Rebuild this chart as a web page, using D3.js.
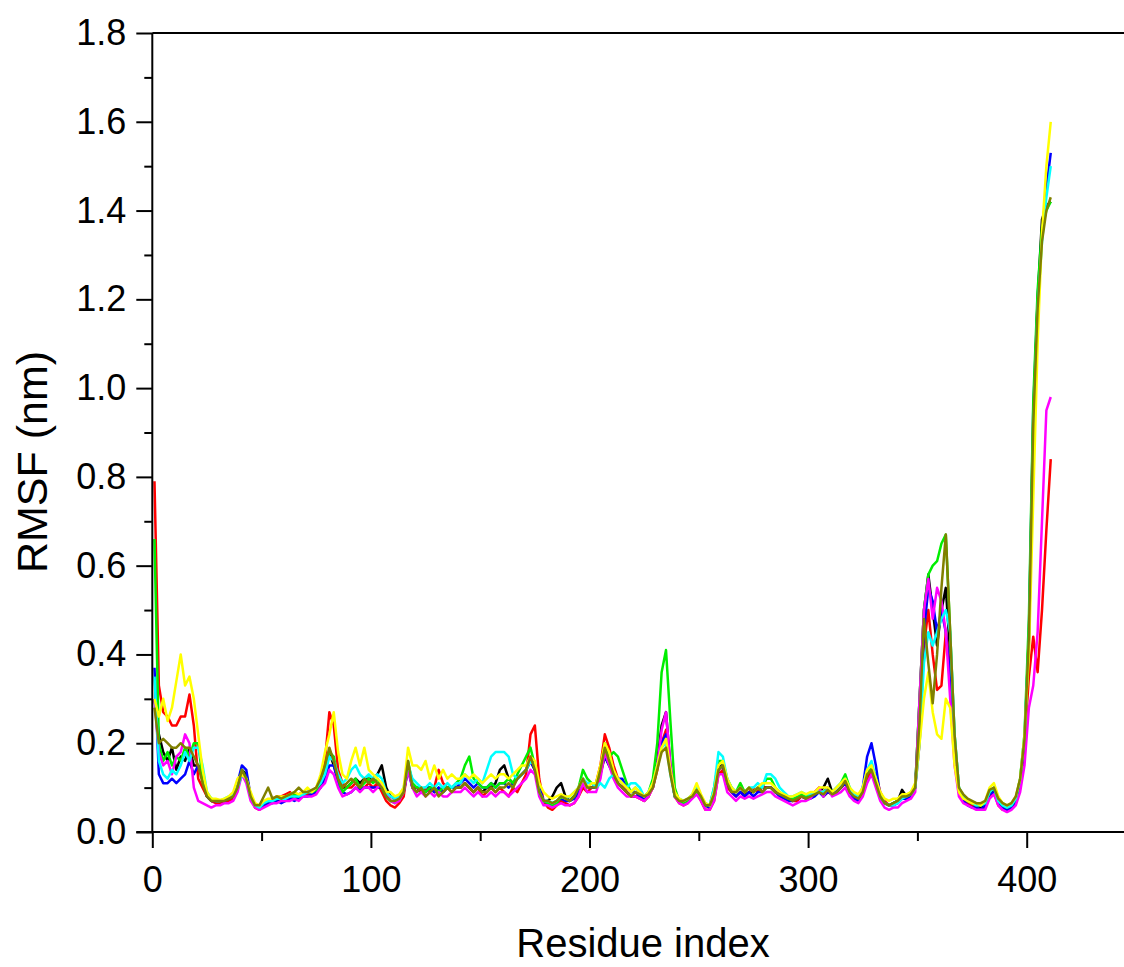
<!DOCTYPE html>
<html>
<head>
<meta charset="utf-8">
<script src="https://cdn.jsdelivr.net/npm/d3@7"></script>
<style>
  html, body { margin: 0; padding: 0; background: #fff; }
  svg { display: block; font-family: "Liberation Sans", Arial, sans-serif; }
</style>
</head>
<body>
<svg id="chart" width="1124" height="967"></svg>
<script>
// ---- data (RMSF in nm, sampled every 2 residues: 1,3,5,...,411) ----
const residues = d3.range(1, 412, 2);

const xTicks = [0, 100, 200, 300, 400];
const xMinorTicks = [50, 150, 250, 350];
const yTicks = [0, 0.2, 0.4, 0.6, 0.8, 1.0, 1.2, 1.4, 1.6, 1.8];
const yMinorTicks = [0.1, 0.3, 0.5, 0.7, 0.9, 1.1, 1.3, 1.5, 1.7];

const seriesNames = ["black", "red", "blue", "green", "magenta", "cyan", "yellow", "olive"];
const seriesColors = ["#000000", "#ff0000", "#0000ff", "#00ee00", "#ff00ff", "#00ffff", "#ffff00", "#808000"];

const rmsfBlack = [
  .3,.22,.18,.16,.19,.14,.17,.16,.19,.15,  .15,.12,.08,.07,.07,.07,.07,.075,.08,.1,
  .14,.13,.08,.06,.055,.06,.065,.07,.07,.075,  .075,.08,.075,.08,.085,.09,.085,.09,.11,.13,
  .18,.15,.12,.1,.1,.11,.12,.11,.12,.12,  .12,.13,.15,.1,.08,.075,.08,.09,.15,.1,
  .1,.09,.1,.1,.09,.1,.09,.1,.1,.1,  .1,.11,.1,.09,.1,.09,.1,.1,.11,.14,
  .15,.12,.11,.12,.13,.14,.16,.14,.09,.07,  .07,.08,.1,.11,.08,.07,.08,.09,.11,.1,
  .1,.1,.13,.17,.15,.13,.11,.1,.09,.08,  .08,.08,.07,.08,.11,.16,.24,.27,.15,.08,
  .07,.065,.07,.08,.09,.075,.06,.055,.08,.15,  .15,.11,.09,.09,.1,.085,.09,.09,.1,.1,
  .1,.1,.09,.085,.08,.075,.07,.075,.085,.08,  .08,.085,.09,.1,.12,.09,.09,.1,.11,.09,
  .08,.075,.09,.12,.14,.11,.08,.065,.06,.065,  .07,.095,.08,.085,.1,.3,.5,.58,.5,.42,
  .5,.55,.4,.2,.09,.07,.065,.06,.055,.055,  .06,.085,.095,.065,.055,.05,.055,.065,.1,.2,
  .42,.9,1.2,1.38,1.41,1.42
];
const rmsfRed = [
  .79,.33,.27,.26,.24,.24,.26,.26,.31,.24,  .12,.1,.08,.07,.065,.065,.07,.07,.075,.1,
  .13,.12,.08,.055,.05,.06,.07,.075,.08,.08,  .085,.09,.08,.085,.09,.085,.09,.1,.12,.16,
  .27,.24,.14,.11,.1,.1,.11,.1,.1,.11,  .1,.11,.09,.07,.06,.055,.065,.08,.15,.1,
  .1,.09,.1,.09,.1,.14,.11,.1,.09,.1,  .1,.11,.1,.09,.1,.08,.09,.1,.09,.1,
  .09,.08,.1,.09,.11,.13,.22,.24,.12,.07,  .055,.05,.06,.07,.065,.06,.065,.08,.1,.09,
  .1,.11,.15,.22,.19,.15,.12,.11,.09,.08,  .08,.075,.07,.08,.1,.14,.2,.23,.14,.08,
  .065,.06,.065,.08,.09,.07,.05,.05,.07,.13,  .14,.1,.09,.08,.09,.08,.09,.1,.09,.1,
  .1,.1,.09,.085,.08,.075,.07,.07,.08,.075,  .08,.09,.1,.08,.09,.085,.09,.1,.11,.09,
  .08,.075,.09,.12,.14,.13,.09,.07,.06,.06,  .07,.08,.08,.085,.1,.2,.42,.5,.4,.32,
  .33,.45,.38,.2,.09,.07,.065,.06,.055,.05,  .055,.08,.09,.06,.05,.05,.055,.065,.1,.2,
  .35,.44,.36,.5,.68,.84
];
const rmsfBlue = [
  .37,.13,.11,.11,.12,.11,.12,.13,.16,.13,  .15,.12,.08,.07,.07,.07,.07,.075,.08,.11,
  .15,.14,.08,.06,.055,.06,.065,.065,.07,.065,  .07,.075,.07,.075,.08,.08,.085,.09,.1,.12,
  .15,.15,.11,.09,.085,.09,.1,.095,.1,.1,  .1,.1,.1,.08,.07,.07,.075,.09,.14,.1,
  .09,.1,.09,.1,.09,.1,.09,.1,.1,.1,  .11,.12,.11,.1,.11,.1,.1,.11,.1,.11,
  .11,.1,.11,.12,.13,.14,.16,.14,.1,.07,  .065,.06,.07,.075,.07,.07,.075,.09,.12,.1,
  .1,.1,.14,.17,.15,.13,.12,.12,.1,.09,  .09,.08,.075,.085,.1,.15,.2,.22,.14,.08,
  .07,.065,.07,.08,.09,.075,.06,.055,.08,.14,  .15,.11,.09,.08,.09,.08,.09,.08,.09,.09,
  .1,.1,.09,.08,.075,.07,.07,.075,.08,.075,  .075,.08,.09,.08,.09,.085,.09,.1,.11,.09,
  .075,.07,.1,.17,.2,.15,.08,.065,.06,.06,  .065,.075,.075,.08,.1,.25,.45,.55,.52,.45,
  .5,.45,.35,.2,.09,.07,.06,.055,.055,.05,  .06,.085,.09,.065,.055,.05,.055,.07,.11,.2,
  .45,.95,1.2,1.35,1.45,1.53
];
const rmsfGreen = [
  .66,.2,.16,.18,.15,.17,.16,.19,.17,.2,  .2,.12,.085,.075,.07,.07,.072,.075,.08,.1,
  .14,.12,.08,.06,.055,.065,.07,.07,.075,.075,  .08,.08,.085,.08,.085,.09,.09,.095,.11,.14,
  .18,.17,.12,.09,.1,.11,.12,.1,.11,.12,  .11,.12,.1,.08,.07,.065,.075,.09,.16,.11,
  .1,.1,.09,.1,.1,.09,.1,.1,.1,.11,  .12,.15,.17,.12,.11,.1,.1,.11,.1,.11,
  .11,.12,.11,.13,.15,.17,.19,.15,.09,.07,  .065,.06,.065,.08,.075,.07,.08,.1,.14,.12,
  .11,.11,.14,.2,.17,.18,.17,.14,.11,.09,  .1,.09,.08,.09,.12,.2,.36,.41,.25,.1,
  .07,.065,.07,.08,.09,.075,.06,.06,.1,.16,  .16,.12,.1,.09,.11,.09,.1,.09,.1,.1,
  .12,.12,.1,.09,.08,.075,.075,.08,.085,.08,  .085,.09,.09,.09,.1,.09,.1,.11,.13,.1,
  .085,.08,.1,.13,.15,.12,.08,.065,.06,.065,  .07,.08,.08,.09,.1,.3,.5,.58,.6,.61,
  .65,.67,.45,.22,.1,.08,.07,.065,.06,.06,  .065,.09,.1,.07,.06,.055,.06,.075,.12,.22,
  .48,.97,1.22,1.36,1.4,1.42
];
const rmsfMagenta = [
  .3,.18,.15,.16,.13,.17,.18,.22,.2,.1,  .07,.065,.06,.055,.06,.06,.065,.065,.07,.09,
  .13,.11,.07,.055,.05,.055,.06,.065,.065,.07,  .07,.07,.075,.07,.08,.08,.08,.085,.1,.11,
  .14,.13,.1,.08,.085,.09,.1,.09,.1,.1,  .09,.1,.11,.09,.07,.065,.07,.09,.14,.1,
  .08,.09,.08,.09,.08,.09,.08,.08,.09,.09,  .09,.1,.09,.08,.09,.08,.08,.09,.08,.09,
  .09,.08,.09,.1,.11,.12,.14,.13,.08,.06,  .06,.055,.06,.065,.06,.06,.065,.08,.11,.09,
  .09,.09,.12,.18,.15,.12,.1,.09,.08,.08,  .08,.075,.07,.08,.1,.15,.23,.27,.15,.08,
  .065,.06,.065,.075,.085,.07,.05,.05,.07,.13,  .13,.09,.08,.07,.08,.075,.08,.075,.08,.085,
  .09,.09,.08,.075,.07,.065,.06,.065,.07,.07,  .075,.09,.1,.08,.1,.08,.085,.09,.1,.08,
  .07,.065,.08,.11,.13,.1,.07,.055,.05,.055,  .055,.065,.07,.075,.09,.3,.5,.57,.48,.55,
  .52,.45,.3,.15,.08,.065,.06,.055,.05,.05,  .05,.075,.085,.06,.05,.045,.05,.06,.09,.15,
  .28,.33,.45,.7,.95,.98
];
const rmsfCyan = [
  .35,.16,.13,.12,.14,.13,.15,.18,.16,.19,  .19,.15,.09,.075,.07,.07,.075,.08,.085,.1,
  .13,.12,.08,.06,.055,.065,.07,.07,.075,.075,  .075,.08,.08,.08,.085,.09,.09,.1,.11,.13,
  .17,.16,.13,.11,.12,.14,.15,.13,.12,.13,  .12,.13,.12,.09,.08,.075,.08,.1,.15,.12,
  .11,.1,.1,.11,.1,.11,.1,.11,.1,.11,  .11,.13,.12,.11,.12,.11,.14,.17,.18,.18,
  .18,.17,.13,.12,.13,.14,.16,.15,.09,.07,  .07,.065,.07,.08,.075,.08,.09,.1,.12,.11,
  .11,.1,.11,.1,.12,.13,.12,.11,.1,.11,  .11,.1,.08,.09,.11,.15,.19,.2,.13,.08,
  .075,.07,.075,.085,.1,.08,.065,.06,.1,.18,  .17,.12,.1,.09,.1,.09,.1,.1,.11,.1,
  .13,.13,.12,.1,.09,.08,.08,.085,.09,.085,  .085,.09,.09,.09,.095,.09,.1,.11,.12,.1,
  .085,.08,.1,.14,.16,.12,.08,.065,.06,.06,  .065,.075,.08,.085,.1,.2,.38,.45,.42,.45,
  .48,.5,.45,.22,.1,.08,.07,.065,.06,.06,  .065,.09,.1,.07,.06,.055,.06,.075,.12,.22,
  .43,.9,1.18,1.33,1.43,1.5
];
const rmsfYellow = [
  .3,.26,.3,.25,.28,.34,.4,.33,.35,.3,  .22,.14,.09,.075,.075,.072,.075,.08,.09,.12,
  .13,.12,.09,.065,.06,.07,.075,.075,.08,.08,  .08,.085,.09,.085,.09,.1,.09,.1,.13,.18,
  .22,.27,.18,.13,.12,.16,.19,.15,.19,.14,  .13,.12,.11,.09,.09,.08,.085,.1,.19,.15,
  .15,.14,.16,.12,.15,.12,.14,.12,.13,.12,  .12,.13,.12,.13,.12,.11,.12,.13,.12,.13,
  .13,.12,.13,.14,.15,.15,.17,.16,.11,.09,  .08,.075,.08,.085,.08,.08,.09,.1,.12,.1,
  .11,.11,.15,.2,.18,.14,.12,.11,.1,.09,  .1,.09,.08,.09,.11,.15,.19,.21,.14,.09,
  .075,.07,.075,.085,.11,.085,.065,.06,.09,.15,  .16,.12,.1,.09,.1,.09,.1,.09,.1,.11,
  .11,.11,.1,.09,.085,.08,.08,.085,.09,.085,  .09,.09,.1,.1,.1,.09,.1,.11,.12,.1,
  .09,.085,.1,.14,.15,.12,.09,.075,.07,.075,  .075,.085,.085,.09,.11,.2,.3,.36,.27,.22,
  .21,.3,.28,.15,.09,.075,.07,.065,.065,.06,  .07,.1,.11,.08,.065,.06,.065,.08,.12,.22,
  .4,.75,1.1,1.35,1.5,1.6
];
const rmsfOlive = [
  .28,.2,.21,.2,.19,.19,.2,.19,.19,.17,  .15,.11,.08,.07,.07,.07,.07,.075,.08,.1,
  .14,.12,.08,.06,.06,.08,.1,.075,.08,.075,  .08,.085,.09,.1,.09,.09,.095,.1,.12,.15,
  .19,.16,.12,.1,.11,.12,.11,.1,.12,.11,  .12,.11,.1,.08,.07,.07,.075,.09,.16,.1,
  .09,.1,.08,.09,.1,.08,.09,.1,.09,.1,  .1,.11,.1,.09,.1,.09,.09,.1,.09,.1,
  .1,.11,.1,.12,.13,.14,.17,.14,.09,.07,  .07,.065,.07,.08,.075,.07,.08,.1,.12,.1,
  .1,.1,.14,.19,.16,.13,.11,.1,.09,.08,  .09,.085,.08,.085,.1,.14,.18,.19,.13,.08,
  .07,.07,.075,.08,.095,.08,.06,.06,.085,.14,  .15,.11,.09,.09,.1,.09,.1,.09,.1,.09,
  .1,.1,.09,.085,.08,.075,.07,.075,.08,.075,  .08,.085,.09,.085,.095,.085,.09,.1,.115,.09,
  .08,.075,.09,.13,.14,.11,.08,.065,.06,.065,  .07,.08,.08,.085,.1,.25,.48,.38,.29,.4,
  .55,.67,.45,.22,.1,.085,.075,.07,.065,.065,  .07,.095,.1,.075,.065,.06,.065,.08,.12,.21,
  .44,.92,1.18,1.33,1.4,1.43
];

const seriesValues = [rmsfBlack, rmsfRed, rmsfBlue, rmsfGreen, rmsfMagenta, rmsfCyan, rmsfYellow, rmsfOlive];

// ---- layout ----
const svg = d3.select("#chart");
const svgW = 1124, svgH = 967;
const plotLeft = 152.3, plotTop = 33, plotBottom = 832;

const x = d3.scaleLinear().domain([0, 445]).range([plotLeft, plotLeft + 445 * 2.186]);
const y = d3.scaleLinear().domain([0, 1.8]).range([plotBottom, plotTop]);

const axisColor = "#000";

// lines
const line = d3.line()
  .x((d, i) => x(residues[i]))
  .y(d => y(d));

const linesG = svg.append("g");
seriesValues.forEach((vals, k) => {
  linesG.append("path")
    .datum(vals)
    .attr("fill", "none")
    .attr("stroke", seriesColors[k])
    .attr("stroke-width", 2.5)
    .attr("stroke-linejoin", "round")
    .attr("d", line);
});

// top border
svg.append("line")
  .attr("x1", plotLeft).attr("x2", svgW)
  .attr("y1", plotTop).attr("y2", plotTop)
  .attr("stroke", axisColor).attr("stroke-width", 2);

// y axis
const yAxisG = svg.append("g").attr("transform", `translate(${plotLeft},0)`);
yAxisG.call(d3.axisLeft(y).tickValues(yTicks).tickSize(16).tickPadding(10).tickFormat(d3.format(".1f")));
yAxisG.select(".domain").attr("stroke-width", 2).attr("d", `M0,${plotBottom}V${plotTop}`);
yAxisG.selectAll(".tick line").attr("stroke-width", 2);
yAxisG.selectAll(".tick text").attr("font-size", 36).attr("fill", "#000")
  .attr("font-family", "'Liberation Sans', Arial, sans-serif");
const yMinorG = svg.append("g").attr("transform", `translate(${plotLeft},0)`);
yMinorG.call(d3.axisLeft(y).tickValues(yMinorTicks).tickSize(8).tickFormat(""));
yMinorG.select(".domain").remove();
yMinorG.selectAll(".tick line").attr("stroke-width", 2);

// x axis
const xAxisG = svg.append("g").attr("transform", `translate(0,${plotBottom})`);
xAxisG.call(d3.axisBottom(x).tickValues(xTicks).tickSize(16).tickFormat(d3.format("d")));
xAxisG.select(".domain").attr("stroke-width", 2).attr("d", `M${plotLeft - 16},0H${svgW}`);
xAxisG.selectAll(".tick line").attr("stroke-width", 2);
xAxisG.selectAll(".tick text").attr("font-size", 36).attr("fill", "#000")
  .attr("y", 60).attr("dy", 0)
  .attr("font-family", "'Liberation Sans', Arial, sans-serif");
const xMinorG = svg.append("g").attr("transform", `translate(0,${plotBottom})`);
xMinorG.call(d3.axisBottom(x).tickValues(xMinorTicks).tickSize(9).tickFormat(""));
xMinorG.select(".domain").remove();
xMinorG.selectAll(".tick line").attr("stroke-width", 2);

// axis titles
svg.append("text")
  .attr("x", 643).attr("y", 957)
  .attr("text-anchor", "middle")
  .attr("font-size", 40)
  .attr("fill", "#000")
  .text("Residue index");

svg.append("text")
  .attr("transform", "translate(47,462) rotate(-90)")
  .attr("text-anchor", "middle")
  .attr("font-size", 43)
  .attr("fill", "#000")
  .text("RMSF (nm)");
</script>
</body>
</html>
